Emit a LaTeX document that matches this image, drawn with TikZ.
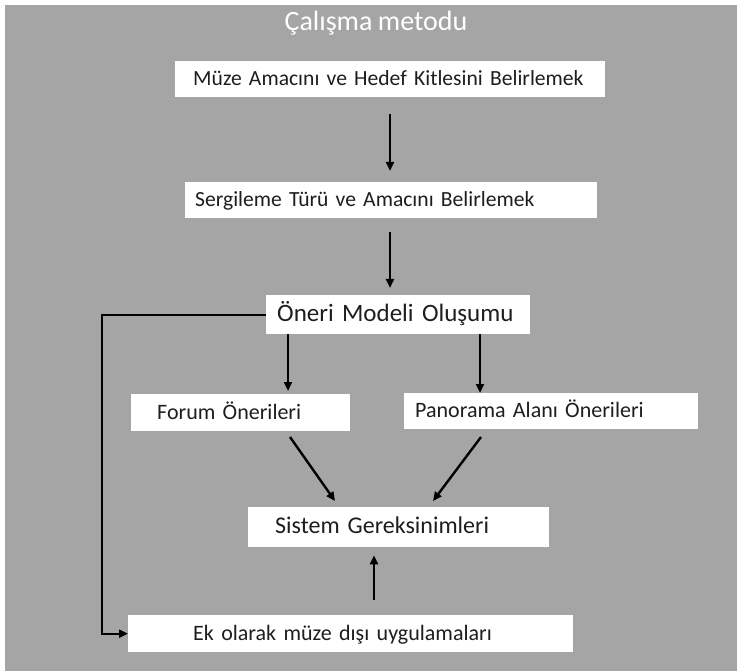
\documentclass[tikz,border=0pt]{standalone}
\usepackage{fontspec}
\setmainfont{Carlito}[WordSpace=0.85]
\usetikzlibrary{arrows.meta}
\definecolor{bggray}{RGB}{165,165,165}
\definecolor{txt}{RGB}{30,30,30}
\tikzset{
  box/.style={fill=white, draw=none, anchor=north west, align=left, inner ysep=0pt,
    text=txt, font=\fontsize{22}{26}\selectfont, text height=16.5pt, text depth=3.5pt},
  arr/.style={line width=2.4pt, draw=black, -{Triangle[length=9pt,width=8pt]}},
  fb/.style={line width=2pt, draw=black, -{Triangle[length=9pt,width=8pt]}}
}
\begin{document}
\begin{tikzpicture}[x=1pt,y=-1pt]
\useasboundingbox (0,0) rectangle (737,671);
\fill[white] (0,0) rectangle (737,671);
\fill[bggray] (5,5) rectangle (737,671);
\node[text=white, font=\fontsize{28}{32}\selectfont, anchor=base] (title) at (376,31) {Çalışma metodu};
% boxes
\node[box, text width=394pt, inner xsep=18pt, minimum height=36pt, font=\fontsize{21.6}{25}\selectfont] (b1) at (175,61) {\mbox{Müze Amacını ve Hedef Kitlesini Belirlemek}};
\node[box, text width=392pt, inner xsep=10pt, minimum height=36pt, font=\fontsize{21.6}{25}\selectfont] (b2) at (185,182) {\mbox{Sergileme Türü ve Amacını Belirlemek}};
\node[box, text width=242pt, inner xsep=11pt, minimum height=39pt, font=\fontsize{25}{29}\selectfont, text height=18pt, text depth=4pt] (b3) at (266,295) {\mbox{Öneri Modeli Oluşumu}};
\node[box, text width=167pt, inner xsep=26pt, minimum height=37pt] (b4) at (131,394) {\mbox{Forum Önerileri}};
\node[box, text width=272pt, inner xsep=11pt, minimum height=36pt] (b5) at (404,393) {\mbox{Panorama Alanı Önerileri}};
\node[box, text width=247pt, inner xsep=27pt, minimum height=40pt, font=\fontsize{24}{28}\selectfont, text height=17.5pt, text depth=4pt] (b6) at (248,507) {\mbox{Sistem Gereksinimleri}};
\node[box, text width=315pt, inner xsep=65pt, minimum height=37pt] (b7) at (128,615) {\mbox{Ek olarak müze dışı uygulamaları}};
% column coordinates
\coordinate (cA) at (390,0);
\coordinate (cL) at (288,0);
\coordinate (cR) at (480,0);
\coordinate (cU) at (374,0);
\coordinate (cF) at (102,0);
% arrows
\draw[arr, shorten <=17pt, shorten >=11pt] (b1.south -| cA) -- (b2.north -| cA);
\draw[arr, shorten <=14pt, shorten >=7pt] (b2.south -| cA) -- (b3.north -| cA);
\draw[arr, shorten >=3pt] (b3.south -| cL) -- (b4.north -| cL);
\draw[arr, shorten >=0pt] (b3.south -| cR) -- (b5.north -| cR);
\coordinate (d1s) at (290,437);
\coordinate (d1e) at (335,501);
\coordinate (d2s) at (481,437);
\coordinate (d2e) at (433,501);
\draw[arr] (d1s) -- (d1e);
\draw[arr] (d2s) -- (d2e);
\draw[arr, shorten <=15pt, shorten >=8pt] (b7.north -| cU) -- (b6.south -| cU);
\draw[fb] (b3.west) -- (b3.west -| cF) -- (b7.west -| cF) -- (b7.west);
\end{tikzpicture}
\end{document}
